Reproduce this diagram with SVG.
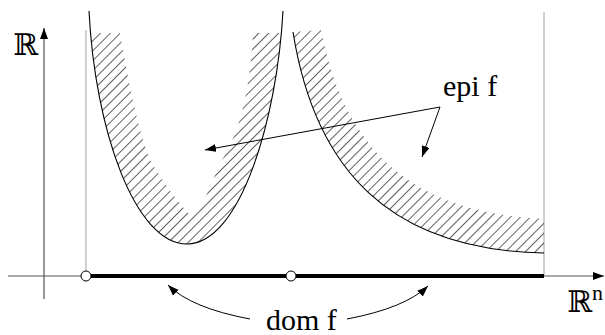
<svg xmlns="http://www.w3.org/2000/svg" width="605" height="335" viewBox="0 0 605 335">
<style>
.curve{fill:none;stroke:#000;stroke-width:1.1}
.guide{fill:none;stroke:#a0a0a0;stroke-width:1}
.axis{fill:none;stroke:#555;stroke-width:1.2}
.arr{fill:none;stroke:#000;stroke-width:1}
.dom{fill:none;stroke:#000;stroke-width:4}
.pt{fill:#fff;stroke:#000;stroke-width:1}
.lbl{font-family:"Liberation Serif","Times New Roman",serif;font-size:30px;fill:#000}
.bb{font-family:"DejaVu Serif","Liberation Serif",serif}
.hatch{fill:url(#hatch)}
</style>
<defs>
<pattern id="hatch" patternUnits="userSpaceOnUse" width="10" height="7" patternTransform="rotate(-45)">
<line x1="-1" y1="3.5" x2="11" y2="3.5" stroke="#444" stroke-width="0.85"/>
</pattern>
<marker id="ah" markerUnits="userSpaceOnUse" markerWidth="12" markerHeight="10" refX="11" refY="4" orient="auto">
<path d="M0,0 L11,4 L0,8 Z" fill="#000"/>
</marker>
<clipPath id="top"><rect x="0" y="33" width="605" height="302"/></clipPath>
<clipPath id="ucl"><path d="M89,11 C95,130 135,244 187,244 C240,244 277,120 283,11 L253,11 L253,33 C250,100 235,140 222,160 C212,180 205,205 192,217 C180,205 165,185 150,160 C138,130 128,80 120,33 L120,11 Z"/></clipPath>
<clipPath id="rcl"><path d="M293,32 C315,170 390,250 544,253 L544,219 C410,212 345,150 321,30 Z"/></clipPath>
</defs>

<g id="axes">
<line class="axis" x1="44" y1="299" x2="44" y2="28" marker-end="url(#ah)"/>
<line class="axis" x1="8" y1="276" x2="604" y2="276" marker-end="url(#ah)"/>
<line class="guide" x1="86" y1="30" x2="86" y2="276"/>
<line class="guide" x1="544" y1="12" x2="544" y2="276"/>
</g>

<g id="epi-left">
<g clip-path="url(#top)"><rect class="hatch" clip-path="url(#ucl)" x="80" y="0" width="220" height="260"/></g>
<path class="curve" d="M89,11 C95,130 135,244 187,244 C240,244 277,120 283,11"/>
</g>

<g id="epi-right">
<rect class="hatch" clip-path="url(#rcl)" x="285" y="20" width="265" height="240"/>
<path class="curve" d="M293,32 C315,170 390,250 544,253"/>
</g>

<g id="domain">
<line class="dom" x1="91" y1="276" x2="544" y2="276"/>
<circle class="pt" cx="86" cy="276" r="5"/>
<circle class="pt" cx="291" cy="276" r="5"/>
</g>

<g id="connectors">
<path class="arr" d="M440,107 L205,150" marker-end="url(#ah)"/>
<path class="arr" d="M440,107 L422,157" marker-end="url(#ah)"/>
<path class="arr" d="M250,319 Q191,308 168,285" marker-end="url(#ah)"/>
<path class="arr" d="M347,319 Q405,308 428,286" marker-end="url(#ah)"/>
</g>

<g id="labels">
<text class="lbl bb" x="13" y="55">ℝ</text>
<text class="lbl" x="567" y="312"><tspan class="bb">ℝ</tspan><tspan font-size="22" dy="-12">n</tspan></text>
<text class="lbl" x="443" y="96">epi f</text>
<text class="lbl" x="266" y="330">dom f</text>
</g>
</svg>
